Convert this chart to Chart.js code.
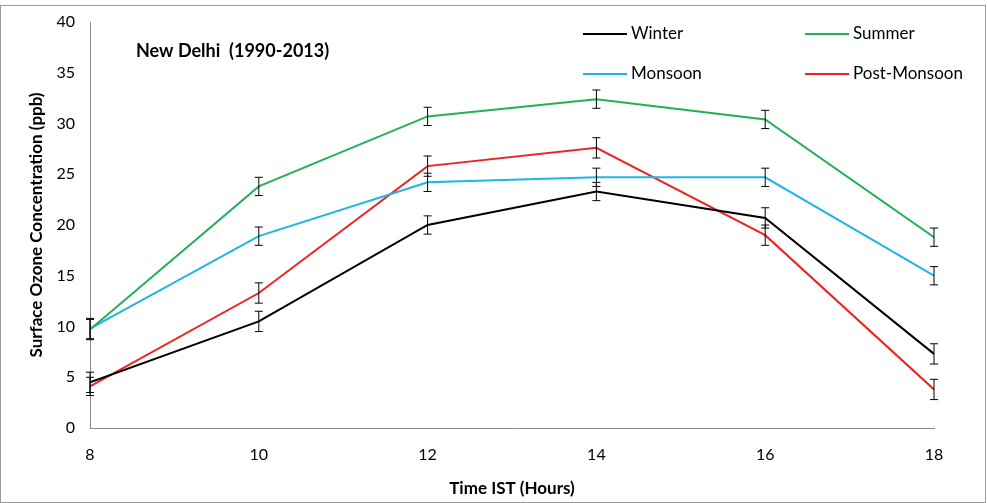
<!DOCTYPE html>
<html>
<head>
<meta charset="utf-8">
<script src="https://cdn.jsdelivr.net/npm/chart.js@4/dist/chart.umd.min.js"></script>
<style>
  html, body { margin: 0; padding: 0; background: #fff; }
  #wrap { width: 987px; height: 503px; }
</style>
</head>
<body>
<div id="wrap"><canvas id="ozoneChart"></canvas></div>
<script>
// Data
const hours = [8, 10, 12, 14, 16, 18];
const winter = [4.5, 10.5, 20.0, 23.3, 20.7, 7.3];
const summer = [9.7, 23.8, 30.7, 32.4, 30.4, 18.8];
const monsoon = [9.8, 18.9, 24.2, 24.7, 24.7, 15.0];
const postMonsoon = [4.1, 13.3, 25.8, 27.6, 19.0, 3.8];
const errWinter = [1.0, 1.0, 0.9, 0.9, 1.0, 1.0];
const errSummer = [1.0, 0.9, 0.9, 0.9, 0.9, 0.9];
const errMonsoon = [1.0, 0.9, 0.9, 0.9, 0.9, 0.9];
const errPost = [0.9, 1.0, 1.0, 1.0, 1.0, 1.0];
const yTicks = [0, 5, 10, 15, 20, 25, 30, 35, 40];

const FONT = "Lato, 'Open Sans', sans-serif";

function series(label, values, errs, color) {
    return {
        label: label,
        data: hours.map((h, i) => ({ x: h, y: values[i], err: errs[i] })),
        borderColor: color,
        backgroundColor: color,
        borderWidth: 2,
        pointRadius: 0,
        tension: 0,
    };
}

// Error bars, drawn through the chart scales
const errorBars = {
    id: "errorBars",
    afterDatasetsDraw(chart) {
        const ctx = chart.ctx;
        const xs = chart.scales.x, ys = chart.scales.y;
        ctx.save();
        ctx.strokeStyle = "#000";
        ctx.lineWidth = 1;
        chart.data.datasets.forEach(ds => {
            ds.data.forEach(p => {
                const x = xs.getPixelForValue(p.x);
                const top = ys.getPixelForValue(p.y + p.err);
                const bot = ys.getPixelForValue(p.y - p.err);
                ctx.beginPath();
                ctx.moveTo(x, top); ctx.lineTo(x, bot);
                ctx.moveTo(x - 4, top); ctx.lineTo(x + 4, top);
                ctx.moveTo(x - 4, bot); ctx.lineTo(x + 4, bot);
                ctx.stroke();
            });
        });
        ctx.restore();
    }
};

// Title, legend and frame
const decorations = {
    id: "decorations",
    afterDraw(chart) {
        const ctx = chart.ctx;
        ctx.save();
        ctx.strokeStyle = "#9a9a9a";
        ctx.lineWidth = 1;
        ctx.strokeRect(0.5, 5.5, 985, 497);

        ctx.fillStyle = "#000";
        ctx.font = "bold 18px " + FONT;
        ctx.textBaseline = "middle";
        ctx.fillText("New Delhi  (1990-2013)", 136, 51);

        const items = [
            ["Winter", "#000000", 583, 34],
            ["Summer", "#22b05a", 805, 34],
            ["Monsoon", "#1fb4e6", 583, 74],
            ["Post-Monsoon", "#ee2222", 805, 74],
        ];
        ctx.font = "17px " + FONT;
        items.forEach(([t, c, x, y]) => {
            ctx.strokeStyle = c;
            ctx.lineWidth = 2;
            ctx.beginPath();
            ctx.moveTo(x, y); ctx.lineTo(x + 44, y);
            ctx.stroke();
            ctx.fillStyle = "#000";
            ctx.fillText(t, x + 48, y);
        });
        ctx.restore();
    }
};

new Chart(document.getElementById("ozoneChart"), {
    type: "line",
    data: {
        datasets: [
            series("Winter", winter, errWinter, "#000000"),
            series("Summer", summer, errSummer, "#22b05a"),
            series("Monsoon", monsoon, errMonsoon, "#1fb4e6"),
            series("Post-Monsoon", postMonsoon, errPost, "#ee2222"),
        ],
    },
    options: {
        responsive: true,
        maintainAspectRatio: false,
        animation: false,
        layout: { padding: { top: 22, right: 53, left: 22, bottom: 0 } },
        plugins: { legend: { display: false }, tooltip: { enabled: false } },
        scales: {
            x: {
                type: "linear",
                min: 8, max: 18,
                grid: { display: false, drawTicks: true, tickLength: 5, color: "#888" },
                border: { color: "#888" },
                ticks: { stepSize: 2, color: "#000", font: { family: FONT, size: 16 }, padding: 12 },
                title: { display: true, text: "Time IST (Hours)", color: "#000", font: { family: FONT, size: 17, weight: "bold" }, padding: { top: 10 } },
                afterFit(scale) { scale.height = 75; },
            },
            y: {
                min: 0, max: 40,
                afterBuildTicks(scale) { scale.ticks = yTicks.map(v => ({ value: v })); },
                grid: { display: false, drawTicks: true, tickLength: 5, color: "#888" },
                border: { color: "#888" },
                ticks: { color: "#000", font: { family: FONT, size: 16 }, padding: 10 },
                title: { display: true, text: "Surface Ozone Concentration (ppb)", color: "#000", font: { family: FONT, size: 17, weight: "bold" } },
                afterFit(scale) { scale.width = 68; },
            },
        },
    },
    plugins: [errorBars, decorations],
});
</script>
</body>
</html>
